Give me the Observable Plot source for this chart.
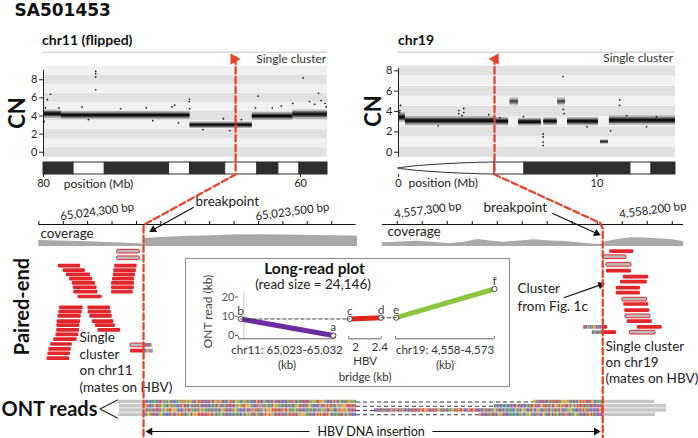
<!DOCTYPE html>
<html><head><meta charset="utf-8">
<script src="https://cdn.jsdelivr.net/npm/d3@7"></script>
<script src="https://cdn.jsdelivr.net/npm/@observablehq/plot@0.6"></script>
<style>
html,body{margin:0;padding:0;background:#fff;}
#fig{position:relative;width:698px;height:438px;overflow:hidden;background:#fff;font-family:Lato,"Open Sans",sans-serif;}
#fig svg{position:absolute;overflow:visible;}
#inset{position:absolute;left:185px;top:258px;width:325px;height:129px;border:1px solid #8c8c8c;box-sizing:border-box;background:#fff;}
</style></head>
<body><div id="fig"><div id="inset"></div></div>
<script>
// ================= DATA =================
// chr11 copy-number profile (position in Mb, axis flipped). Segments: [start, end, CN, half-spread, density]
const chr11Domain = [80, 57.9];
const chr11Segments = [
  [80.0, 78.6, 4.2, 0.45, 1], [78.6, 68.6, 4.05, 0.42, 1], [68.6, 63.75, 2.98, 0.36, 1],
  [63.75, 60.6, 3.95, 0.42, 1], [60.6, 57.9, 4.15, 0.5, 0.9]
];
const chr11Outliers = [[75.94,8.93],[75.94,8.67],[75.94,8.3],[75.94,6.9],[79.45,6.4],[79.7,5.8],[79.85,4.9],[79.95,3.4],
  [68.65,5.85],[68.65,5.6],[68.62,4.8],[63.3,6.2],[63.5,4.9],[59.8,8.2],[58.6,6.5],[59.3,5.6],[58.9,5.3],[58.4,5.7],
  [58.1,5.4],[58.0,5.0],[60.6,5.4],[61.5,5.1],[62.2,4.9],[69.8,5.2],[70.0,5.0],[69.5,3.25],[72.0,4.9],[74.0,4.8],
  [77.0,5.0],[78.8,4.9],[66.0,3.7],[64.6,3.6],[65.5,2.4],[67.6,2.5],[71.5,3.5],[76.5,3.6]];
const chr11Bands = [[80,77.66,1],[77.66,75.23,0],[75.23,70.23,1],[70.23,68.6,0],[68.6,65.86,1],[65.86,63.36,0],[63.36,61.72,1],[61.72,60.08,0],[60.08,57.9,1]];
const chr11Ticks = [80, 60];
const chr11BreakMb = 65.05;

// chr19 copy-number profile (Mb)
const chr19Domain = [0, 13.96];
const chr19Segments = [
  [0.0, 0.35, 3.4, 0.45, 1], [0.35, 4.95, 3.05, 0.45, 1], [4.95, 5.55, 3.0, 0.4, 1], [5.62, 6.05, 4.95, 0.42, 0.55],
  [6.05, 7.2, 2.95, 0.38, 1], [7.32, 8.0, 3.0, 0.38, 1], [8.02, 8.42, 4.95, 0.42, 0.55], [8.52, 10.08, 3.0, 0.4, 1],
  [10.18, 10.58, 1.0, 0.22, 0.8], [10.63, 13.96, 3.1, 0.45, 1]
];
const chr19Outliers = [[0.07,4.1],[0.1,4.6],[0.05,3.9],[3.04,4.1],[3.04,3.8],[3.29,4.3],[3.29,3.9],[3.2,3.6],[4.55,3.7],
  [7.29,1.8],[7.29,1.5],[7.29,1.0],[7.29,0.66],[8.3,7.44],[8.35,3.8],[8.3,4.2],[11.15,5.15],[11.15,4.6],[10.69,2.1],
  [12.5,2.5],[2.0,2.6],[9.5,2.5],[6.3,3.5],[5.1,3.4],[13.0,3.5],[11.5,3.6]];
const chr19PArm = [[0,0.5,0.5],[0.6,0.36,0.64],[1.6,0.22,0.78],[3.0,0.09,0.91],[4.2,0.02,0.98],[4.84,0,1]];
const chr19Bands = [[4.84,6.35,0],[6.35,11.69,1],[11.69,12.75,0],[12.75,13.96,1]];
const chr19Ticks = [0, 10];
const chr19BreakMb = 4.84;

// base-pair level views
const leftBpDomain = [65024557, 65023082];
const leftAxisSpan = [65024400, 65023100];
const leftTicks = [65024400,65024300,65024200,65024100,65024000,65023900,65023800,65023700,65023600,65023500,65023400,65023300,65023200];
const leftTickLabels = [65024300, 65023500];
const leftBreakBp = 65023971;
const leftCoverage = [[65024400,6],[65024311,5.6],[65024229,5],[65024147,4.3],[65024065,3.5],[65023971,2.5],[65023971,8],
  [65023901,9],[65023778,10.3],[65023696,10.8],[65023614,11.5],[65023491,11.8],[65023409,11.6],[65023327,11.3],[65023204,10.8],[65023094,10.5]];
const rightBpDomain = [4557153, 4558505];
const rightAxisSpan = [4557240, 4558445];
const rightTicks = [4557300,4557400,4557500,4557600,4557700,4557800,4557900,4558000,4558100,4558200,4558300,4558400];
const rightTickLabels = [4557300, 4558200];
const rightBreakBp = 4558122;
const rightCoverage = [[4557240,3.7],[4557313,4.5],[4557381,5.3],[4557453,4],[4557513,2.8],[4557573,4.5],[4557621,7],
  [4557673,5.5],[4557725,4.3],[4557793,5.5],[4557845,6.7],[4557913,5.5],[4557973,5],[4558033,3.5],[4558101,2],[4558121,2.5],
  [4558137,5],[4558173,6.5],[4558233,8.7],[4558293,8.5],[4558341,7.7],[4558393,7],[4558445,5]];

// paired-end reads: [start bp, end bp, row, kind]  r = red read, g = grey read (mate on HBV)
const leftReads = [
  [65024079,65023986,0,"g"],[65024079,65023986,1.5,"g"],
  [65024089,65023997,3.3,"r"],[65024093,65024000,4.3,"r"],[65024095,65024004,5.25,"r"],[65024098,65024007,6.25,"r"],
  [65024102,65024008,7.2,"r"],[65024102,65024008,8.2,"r"],[65024102,65024013,9.2,"r"],
  [65024320,65024229,3.3,"r"],[65024300,65024209,4.3,"r"],[65024287,65024188,5.25,"r"],[65024274,65024179,6.25,"r"],
  [65024263,65024168,7.2,"r"],[65024259,65024161,8.2,"r"],[65024257,65024158,9.2,"r"],[65024239,65024140,10.3,"r"],
  [65024315,65024218,12.75,"r"],[65024318,65024222,13.75,"r"],[65024322,65024226,14.7,"r"],[65024325,65024229,15.9,"r"],
  [65024326,65024232,16.8,"r"],[65024327,65024233,17.9,"r"],[65024330,65024236,18.9,"r"],[65024339,65024243,20,"r"],
  [65024352,65024263,21.1,"r"],[65024359,65024267,22.2,"r"],[65024363,65024270,23.2,"r"],[65024366,65024273,24.3,"r"],
  [65024199,65024106,12.75,"r"],[65024198,65024103,13.75,"r"],[65024191,65024099,14.7,"r"],[65024181,65024093,15.9,"r"],
  [65024168,65024086,16.8,"r"],[65024158,65024065,17.9,"r"],
  [65024024,65023971,21.3,"g"],[65024024,65023971,22.6,"r"]
];
const leftClips = [[65023971,65023935,21.3],[65023971,65023931,22.6]];
const rightReads = [
  [4558150,4558246,0,"r"],[4558124,4558217,1.25,"g"],[4558137,4558237,3,"g"],[4558137,4558237,4.4,"r"],
  [4558204,4558306,5.8,"r"],[4558193,4558300,6.9,"r"],[4558176,4558273,8.3,"r"],[4558176,4558273,9.4,"r"],
  [4558200,4558300,10.9,"g"],[4558206,4558306,12,"r"],[4558210,4558310,13.4,"r"],[4558213,4558313,14.7,"g"],
  [4558220,4558320,15.9,"r"],[4558260,4558360,17.2,"r"],[4558230,4558333,18.4,"g"],
  [4558120,4558142,17.2,"r"],[4558126,4558177,18.4,"r"]
];
const rightClips = [[4558046,4558120,17.2],[4558080,4558126,18.4]];

// long-read plot (ONT read position in kb vs reference position)
const lrChr11 = [{p:"a", ref:65031.8, read:0}, {p:"b", ref:65023.2, read:8.6}];
const lrHBV = [{p:"c", ref:1.906, read:8.6}, {p:"d", ref:2.42, read:9.25}];
const lrChr19 = [{p:"e", ref:4558.12, read:9.25}, {p:"f", ref:4573.0, read:24.146}];
const lrReadTicks = [0, 10, 20];
const hbvTicks = [2, 2.4];

// ONT reads in view columns: [left clip start, insert end, dashed gap end, right clip end]
const ontReads = [[118,356,533,654],[119,356,494,666],[119,356,374,666],[118,356,479,655]];
const seqHBV = "TTCCACCAAACTCTGCAAGATCCCAGAGTGAGAGGCCTGTATTTCCCTGCTGGTGGCTCCAGTTCAGGAACAGTAAACCCTGTTCCGACTACTGCCTCTCCCATATCGTCAATCTTCTCGAGGATTGGGGACCCTGCGCTGAACATGGAGAACATCACATCAGGATTCCTAGGACCCCTGCTCGTGTTACAGGCGGGGTTTTTCTTGTTGACAAGAATCCTCACAATACCGCAGAGTCTAGACTCGTGGTGGACTTCTCTCAATTTTCTAGGGGGAACTACCGTGTGTCTTGGCCAAAATTCGCAGTCCCCAACCTCCAATCACTCACCAACCTCCTGTCCTCCAACTTGTCCTGGTTATCGCTGGATGTGTCTGCGGCGTTTTATCATCTTCCTCTTCATCCTGCTGCTATGCCTCATCTTCTTGTTGGTTCTTCTGGACTATCAAGGTATGTTGCCCGTTTGTCCTCTAATTCCAGGATCCTCAACAACCAGCACGGGACCATGCCGGACCTGCATGACTACTGCTCAAGGAACCTCTATGTATCCCTCCTGTTGCTGTACCAAACCTTCGGACGGAAATTGCACCTGTATTCCCATCCCATCATCCTGGGCTTTCGGAAAATTCCTATGGGAGTGGGCCTCAGCCCGTTTCTCCTGGCTCAGTTTACTAGTGCC";
const baseNames = ["A","C","G","T"];
const baseColors = ["#4f9c4f","#5a5fb8","#d49a3c","#c9423a"];

// ================= DRAWING =================
const fig = document.getElementById("fig");
const FONT = "Lato, 'Open Sans', sans-serif";
const baseStyle = {background: "transparent", overflow: "visible", fontFamily: FONT, fontSize: "11px", color: "#222"};
function place(svg, left, top) {
  svg.style.position = "absolute"; svg.style.left = left + "px"; svg.style.top = top + "px";
  svg.style.background = "transparent"; svg.style.overflow = "visible"; svg.style.maxWidth = "none";
  fig.appendChild(svg); return svg;
}
function stripes(x0, x1, n, row, offset) {
  const out = [], step = (x1 - x0) / n;
  for (let i = 0; i < n; i++) out.push({x1: x0 + i * step, x2: x0 + (i + 1) * step, row, base: seqHBV[(offset + i) % seqHBV.length]});
  return out;
}

function cnPlot(domX, domY, segs, outs, width, ml, mr, axisTop) {
  const kmax = Math.floor(domY[1] + 0.5);
  const bands = d3.range(0, kmax + 1).map(k => [k === 0 ? domY[0] : k - 0.5, k === kmax ? domY[1] : k + 0.5, k]);
  return Plot.plot({
    width, height: 96, marginLeft: ml, marginRight: mr, marginTop: 3.7, marginBottom: 1.3, style: baseStyle,
    x: {domain: domX, axis: null}, y: {domain: domY, axis: null},
    marks: [
      Plot.rect(bands, {x1: domX[0], x2: domX[1], y1: d => d[0], y2: d => d[1], fill: d => d[2] % 2 === 0 ? "#e1e1e1" : "#f1f1f1"}),
      Plot.rect(segs, {x1: d => d[0], x2: d => d[1], y1: d => d[2] - d[3], y2: d => d[2] + d[3], fill: "#111", fillOpacity: d => 0.3 * d[4]}),
      Plot.rect(segs, {x1: d => d[0], x2: d => d[1], y1: d => d[2] - d[3] * 0.6, y2: d => d[2] + d[3] * 0.6, fill: "#111", fillOpacity: d => 0.6 * d[4]}),
      Plot.rect(segs, {x1: d => d[0], x2: d => d[1], y1: d => d[2] - d[3] * 0.3, y2: d => d[2] + d[3] * 0.3, fill: "#000", fillOpacity: d => 0.8 * d[4]}),
      Plot.dot(outs, {x: d => d[0], y: d => d[1], r: 0.85, fill: "#111"}),
      Plot.ruleX([domX[0]], {y1: -0.5, y2: axisTop, stroke: "#222"}),
      Plot.axisY({ticks: [0, 2, 4, 6, 8], tickSize: 4, tickPadding: 2, fontSize: 11, anchor: "left", label: null})
    ]
  });
}
function ideoPlot(domX, bands, ticks, width, ml, mr, extra) {
  return Plot.plot({
    width, height: 32, marginLeft: ml, marginRight: mr, marginTop: 2, marginBottom: 18, style: baseStyle,
    x: {domain: domX, axis: null}, y: {domain: [0, 1], axis: null},
    marks: [
      ...extra,
      Plot.rect(bands, {x1: d => d[0], x2: d => d[1], y1: 0, y2: 1, fill: d => d[2] ? "#2d2d2d" : "#ffffff", stroke: "#2d2d2d", strokeWidth: 1}),
      Plot.axisX({ticks, tickSize: 3, tickPadding: 2, fontSize: 11, anchor: "bottom", label: null})
    ]
  });
}
function bpPanel(domain, width, span, ticks, labels, cov, labelY) {
  return Plot.plot({
    width, height: 52, margin: 0, style: baseStyle,
    x: {domain, axis: null}, y: {domain: [-1, 51], axis: null},
    marks: [
      Plot.area(cov, {x1: d => d[0], y1: 0, y2: d => d[1], fill: "#a9a9a9"}),
      Plot.ruleY([22], {x1: span[0], x2: span[1], stroke: "#111", strokeWidth: 1.2}),
      Plot.ruleX(ticks, {y1: 22, y2: 25, stroke: "#111"}),
      Plot.text(labels, {x: d => d, y: labelY, text: d => d3.format(",")(d) + " bp", textAnchor: "start", rotate: -7.5, dx: -3, fontSize: 11.5, fill: "#222"})
    ]
  });
}
function readsPanel(domain, width, reads, clips, offset) {
  const clipStripes = clips.flatMap((c, i) => stripes(c[0], c[1], 9, c[2], offset + i * 17));
  return Plot.plot({
    width, height: 120, margin: 0, style: baseStyle,
    x: {domain, axis: null}, y: {domain: [26.55, -0.727], axis: null},
    color: {domain: baseNames, range: baseColors},
    marks: [
      Plot.rect(reads.filter(d => d[3] === "r"), {x1: d => d[0], x2: d => d[1], y1: d => d[2] - 0.42, y2: d => d[2] + 0.42, fill: "#e2262b", rx: 1}),
      Plot.rect(reads.filter(d => d[3] === "g"), {x1: d => d[0], x2: d => d[1], y1: d => d[2] - 0.42, y2: d => d[2] + 0.42, fill: "#bdbdbd", stroke: "#e2262b", strokeWidth: 1, rx: 1}),
      Plot.rect(clipStripes, {x1: "x1", x2: "x2", y1: d => d.row - 0.42, y2: d => d.row + 0.42, fill: "base", fillOpacity: 0.9})
    ]
  });
}

// --- CN panels ---
const cn11 = place(cnPlot(chr11Domain, [-0.55, 9.5], chr11Segments, chr11Outliers, 330, 43, 3, 9), 0, 62);
const cn19 = place(cnPlot(chr19Domain, [-0.49, 8.45], chr19Segments, chr19Outliers, 330, 48, 5, 8.2), 350, 62);
place(ideoPlot(chr11Domain, chr11Bands, chr11Ticks, 330, 43, 3, []), 0, 160);
place(ideoPlot(chr19Domain, chr19Bands, chr19Ticks, 330, 48, 5,
  [Plot.area(chr19PArm, {x1: d => d[0], y1: d => d[1], y2: d => d[2], curve: "natural", fill: "#fff", stroke: "#2d2d2d", strokeWidth: 1})]), 350, 160);

// --- bp panels ---
const bpL = place(bpPanel(leftBpDomain, 360, leftAxisSpan, leftTicks, leftTickLabels, leftCoverage, 30), 0, 195);
const bpR = place(bpPanel(rightBpDomain, 338, rightAxisSpan, rightTicks, rightTickLabels, rightCoverage, 32), 360, 195);
place(readsPanel(leftBpDomain, 360, leftReads, leftClips, 40), 0, 248);
place(readsPanel(rightBpDomain, 338, rightReads, rightClips, 300), 360, 248);

// --- long-read inset ---
const lrY = {domain: [-1.7, 24.146], axis: null};
function lrPanel(data, dom, color, width, ml, mr, extra) {
  return Plot.plot({
    width, height: 56, marginTop: 3.5, marginBottom: 2.7, marginLeft: ml, marginRight: mr, style: baseStyle,
    x: {domain: dom, axis: null}, y: lrY,
    marks: [
      ...extra,
      Plot.ruleY([-1.7], {x1: dom[0], x2: dom[1], stroke: "#666"}),
      Plot.ruleX(dom, {y1: -1.7, y2: -0.6, stroke: "#666"}),
      Plot.line(data, {x: "ref", y: "read", stroke: color, strokeWidth: 5}),
      Plot.dot(data, {x: "ref", y: "read", r: 2.6, fill: "#fff", stroke: "#222", strokeWidth: 0.8}),
      Plot.text(data, {x: "ref", y: "read", text: "p", dy: -8, fontSize: 12, fill: "#444"})
    ]
  });
}
const L1 = place(lrPanel(lrChr11, [65023, 65032], "#6a2c9e", 145, 43, 5, [
  Plot.ruleX([65023.5], {y1: -1.7, y2: 22.5, stroke: "#c4c4c4"}),
  Plot.axisY({ticks: lrReadTicks, tickSize: 3, tickPadding: 1, fontSize: 11, anchor: "left", color: "#555", label: null}),
  Plot.text(["chr11: 65,023-65,032\n(kb)"], {frameAnchor: "bottom", dy: 4.5, lineAnchor: "top", lineHeight: 1.3, fontSize: 11.5, fill: "#333"})
]), 195, 285);
const L2 = place(lrPanel(lrHBV, [1.89, 2.425], "#e2231a", 60, 18.3, 9.2, [
  Plot.text(hbvTicks, {x: d => d, frameAnchor: "bottom", dy: 4.5, lineAnchor: "top", text: d => String(d), fontSize: 11.5, fill: "#333"}),
  Plot.text(["HBV\nbridge (kb)"], {frameAnchor: "bottom", dy: 15.5, lineAnchor: "top", lineHeight: 1.37, fontSize: 11.5, fill: "#333"})
]), 330, 285);
const L3 = place(lrPanel(lrChr19, [4558, 4573], "#8cc63f", 120, 10, 11, [
  Plot.text(["chr19: 4,558-4,573\n(kb)"], {frameAnchor: "bottom", dy: 4.5, lineAnchor: "top", lineHeight: 1.3, fontSize: 11.5, fill: "#333"})
]), 385, 285);

// --- page positions derived from the scales ---
const sx = (svg, left, v) => left + svg.scale("x").apply(v);
const sy = (svg, top, v) => top + svg.scale("y").apply(v);
const bp11x = sx(cn11, 0, chr11BreakMb);
const bp19x = sx(cn19, 350, chr19BreakMb);
const bpLX = sx(bpL, 0, leftBreakBp);
const bpRX = sx(bpR, 360, rightBreakBp);
const pb = [sx(L1, 195, lrChr11[1].ref), sy(L1, 285, lrChr11[1].read)];
const pc = [sx(L2, 330, lrHBV[0].ref), sy(L2, 285, lrHBV[0].read)];
const pd = [sx(L2, 330, lrHBV[1].ref), sy(L2, 285, lrHBV[1].read)];
const pe = [sx(L3, 385, lrChr19[0].ref), sy(L3, 285, lrChr19[0].read)];

// --- ONT reads ---
const ontStripes = ontReads.flatMap((r, i) => [
  ...stripes(bpLX, r[1], Math.round((r[1] - bpLX) / 1.4), i, i * 53),
  ...stripes(r[2], bpRX, Math.round((bpRX - r[2]) / 1.4), i, 250 + i * 71)
]);
place(Plot.plot({
  width: 698, height: 22, margin: 0, style: baseStyle,
  x: {domain: [0, 698], axis: null}, y: {domain: [3.882, -1.294], axis: null},
  color: {domain: baseNames, range: baseColors},
  marks: [
    Plot.rect(ontReads, {x1: d => d[0], x2: bpLX, y1: (d, i) => i - 0.4, y2: (d, i) => i + 0.4, fill: "#c6c6c6"}),
    Plot.rect(ontReads, {x1: bpRX, x2: d => d[3], y1: (d, i) => i - 0.4, y2: (d, i) => i + 0.4, fill: "#c6c6c6"}),
    Plot.ruleY(ontReads, {y: (d, i) => i, x1: d => d[1], x2: d => d[2], stroke: "#333", strokeWidth: 1, strokeDasharray: "4,3"}),
    Plot.rect(ontStripes, {x1: "x1", x2: "x2", y1: d => d.row - 0.4, y2: d => d.row + 0.4, fill: "base", fillOpacity: 0.9})
  ]
}), 0, 396);

// --- annotation layer (page coordinates) ---
const red = "#e8442d";
const redPaths = [
  [bp11x, 57, "L"], [bp11x, 174, "L"], [bpLX, 224.5, "L"], [bpLX, 438, "L"],
  [bp19x, 57, "R"], [bp19x, 174, "R"], [bpRX - 2.5, 222.5, "R"], [bpRX, 228, "R"], [bpRX, 438, "R"]
];
// arrows [from x, from y, tip x, tip y] with filled heads
const arrowDefs = [[309,431,bpLX+1.5,431],[432,431,bpRX-1.5,431],[193.3,206.7,148.3,231.7],[551.7,212.7,600.7,235],[563.3,297.3,605,282.7]];
const HEAD = 7.5;
const arrowShafts = arrowDefs.map(([x1, y1, x2, y2]) => {
  const L = Math.hypot(x2 - x1, y2 - y1), ux = (x2 - x1) / L, uy = (y2 - y1) / L;
  return [x1, y1, x2 - ux * HEAD * 0.8, y2 - uy * HEAD * 0.8];
});
const arrowHeads = arrowDefs.map(([x1, y1, x2, y2]) => {
  const L = Math.hypot(x2 - x1, y2 - y1), ux = (x2 - x1) / L, uy = (y2 - y1) / L;
  return [x2 - ux * HEAD * 2 / 3, y2 - uy * HEAD * 2 / 3, Math.atan2(ux, -uy) * 180 / Math.PI];
});
const T = (x, y, text) => ({x, y, text});
const txtStart14 = [T(195,200.7,"breakpoint"), T(483,207.4,"breakpoint"), T(40,233,"coverage"), T(387,231.5,"coverage"),
  T(79,337.5,"Single"), T(79,354,"cluster"), T(79,370.5,"on chr11"), T(79,386.7,"(mates on HBV)"),
  T(517,288.4,"Cluster"), T(517,305.7,"from Fig. 1c"),
  T(605,345.7,"Single cluster"), T(605,362,"on chr19"), T(605,378.4,"(mates on HBV)")];
const ann = Plot.plot({
  width: 698, height: 438, margin: 0, style: baseStyle,
  x: {type: "identity", axis: null}, y: {type: "identity", axis: null},
  marks: [
    Plot.ruleY([[51.7,43,327],[51.7,397,675]], {y: d => d[0], x1: d => d[1], x2: d => d[2], stroke: "#c4c4c4"}),
    Plot.text([T(325.7,58.2,"Single cluster"), T(672.7,58,"Single cluster")], {x: "x", y: "y", text: "text", textAnchor: "end", fontSize: 12, fill: "#333"}),
    Plot.text([T(63.3,184,"position (Mb)"), T(408,183,"position (Mb)")], {x: "x", y: "y", text: "text", textAnchor: "start", fontSize: 12, fill: "#222"}),
    Plot.text([T(14,9.6,"SA501453")], {x: "x", y: "y", text: "text", textAnchor: "start", fontSize: 17, fontWeight: "bold", fontFamily: "DejaVu Sans", fill: "#111"}),
    Plot.text([T(41.5,40,"chr11 (flipped)"), T(397.5,40.5,"chr19")], {x: "x", y: "y", text: "text", textAnchor: "start", fontSize: 14, fontWeight: "bold", fill: "#111"}),
    Plot.text([T(17.5,112.5,"CN"), T(373.5,110.5,"CN")], {x: "x", y: "y", text: "text", rotate: -90, fontSize: 22, fontWeight: "bold", fill: "#111"}),
    Plot.text([T(22,306,"Paired-end")], {x: "x", y: "y", text: "text", rotate: -90, fontSize: 20, fontWeight: "bold", fill: "#111"}),
    Plot.text([T(1,408.6,"ONT reads")], {x: "x", y: "y", text: "text", textAnchor: "start", fontSize: 20, fontWeight: "bold", fill: "#111"}),
    Plot.line([[117,399.5],[99.5,408.5],[117,417.5]], {x: d => d[0], y: d => d[1], stroke: "#222", strokeWidth: 1.1}),
    Plot.text(txtStart14, {x: "x", y: "y", text: "text", textAnchor: "start", fontSize: 13.5, fill: "#222"}),
    Plot.text([T(314,268.5,"Long-read plot")], {x: "x", y: "y", text: "text", fontSize: 15.5, fontWeight: "bold", fill: "#111"}),
    Plot.text([T(312.5,284,"(read size = 24,146)")], {x: "x", y: "y", text: "text", fontSize: 13.5, fill: "#222"}),
    Plot.text([T(208,311,"ONT read (kb)")], {x: "x", y: "y", text: "text", rotate: -90, fontSize: 12, fill: "#444"}),
    Plot.line([pb, pc], {x: d => d[0], y: d => d[1], stroke: "#333", strokeWidth: 0.9, strokeDasharray: "3.5,2.5"}),
    Plot.line([pd, pe], {x: d => d[0], y: d => d[1], stroke: "#333", strokeWidth: 0.9, strokeDasharray: "3.5,2.5"}),
    Plot.text([T(370.7,431,"HBV DNA insertion")], {x: "x", y: "y", text: "text", fontSize: 12.5, fill: "#111"}),
    Plot.link(arrowShafts, {x1: d => d[0], y1: d => d[1], x2: d => d[2], y2: d => d[3], stroke: "#111", strokeWidth: 1.2}),
    Plot.dot(arrowHeads, {x: d => d[0], y: d => d[1], rotate: d => d[2], symbol: "triangle", r: 2.9, fill: "#111"}),
    Plot.line(redPaths, {x: d => d[0], y: d => d[1], z: d => d[2], stroke: red, strokeWidth: 2.3, strokeDasharray: "6.5,3.2"}),
    Plot.dot([[bp11x - 1.8, 58.5, 90], [bp19x + 0.8, 58.5, -90]], {x: d => d[0], y: d => d[1], rotate: d => d[2], symbol: "triangle", r: 4.3, fill: red})
  ]
});
place(ann, 0, 0);
</script></body></html>
